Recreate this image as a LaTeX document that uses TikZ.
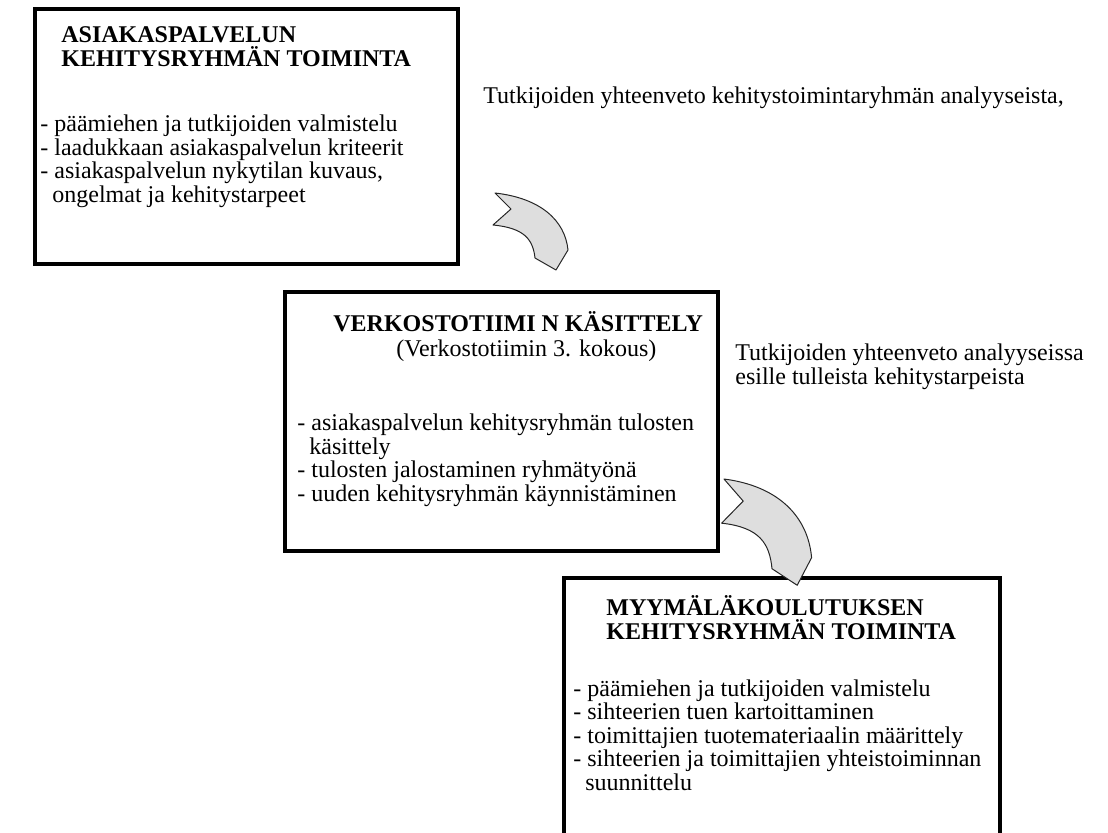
\documentclass[tikz,border=0pt]{standalone}
\usepackage{fontspec}
\setmainfont{Liberation Serif}
\usepackage{tikz}
\usetikzlibrary{positioning,calc}

\tikzset{
  frame/.style={draw=black, line width=1.75pt},
  headtext/.style={font=\fontsize{12pt}{11.6pt}\selectfont\bfseries, anchor=base west, inner sep=0pt, align=left},
  listtext/.style={font=\fontsize{12pt}{11.7pt}\selectfont, anchor=base west, inner sep=0pt, align=left},
  bendarrow/.style={draw=black!85, fill=black!13, line width=0.5pt, line join=round}
}

\begin{document}
\begin{tikzpicture}[x=0.5pt, y=-0.5pt]
    \clip (0,0) rectangle (1108,832);
    % boxes
    \draw[frame] (35,9) rectangle (458,264);
    \draw[frame] (285,292) rectangle (718,551);
    \draw[frame] (564,578) rectangle (1000,850);

    % first group (multi-line nodes sit on their last baseline)
    \node[headtext] (asiakashead) at (61,66) {ASIAKASPALVELUN\\KEHITYSRYHMÄN TOIMINTA};
    \node[listtext] (asiakaslist) at (40,202) {- päämiehen ja tutkijoiden valmistelu\\
      - laadukkaan asiakaspalvelun kriteerit\\
      - asiakaspalvelun nykytilan kuvaus,\\
      \hspace{0.5em}ongelmat ja kehitystarpeet};
    \node[listtext] (yhteenveto1) at (483,103) {Tutkijoiden yhteenveto kehitystoimintaryhmän analyyseista,};

    % network team
    \node[headtext] (verkostohead) at (333,331) {VERKOSTOTIIMI N KÄSITTELY};
    \node[listtext] (verkostosub) at (396,356) {(Verkostotiimin 3. kokous)};
    \node[listtext] (verkostolist) at (297,501) {- asiakaspalvelun kehitysryhmän tulosten\\
      \hspace{0.5em}käsittely\\
      - tulosten jalostaminen ryhmätyönä\\
      - uuden kehitysryhmän käynnistäminen};
    \node[listtext] (yhteenveto2) at (735,384) {Tutkijoiden yhteenveto analyyseissa\\esille tulleista kehitystarpeista};

    % shop training
    \node[headtext] (myymalahead) at (606,639) {MYYMÄLÄKOULUTUKSEN\\KEHITYSRYHMÄN TOIMINTA};
    \node[listtext] (myymalalist) at (573,790) {- päämiehen ja tutkijoiden valmistelu\\
      - sihteerien tuen kartoittaminen\\
      - toimittajien tuotemateriaalin määrittely\\
      - sihteerien ja toimittajien yhteistoiminnan\\
      \hspace{0.5em}suunnittelu};

    % curved block arrows
    \draw[bendarrow] (495,193) -- (511,209) -- (493,225)
      .. controls (525,228) and (533,240) .. (535,258)
      -- (556,270) -- (568,250)
      .. controls (565,220) and (540,198) .. (495,193) -- cycle;
    \begin{scope}[shift={(724,479)}, xscale=1.2, yscale=1.38]
      \draw[bendarrow] (0,0) -- (16,16) -- (-2,32)
        .. controls (30,35) and (38,47) .. (40,65)
        -- (61,77) -- (73,57)
        .. controls (70,27) and (45,5) .. (0,0) -- cycle;
    \end{scope}
\end{tikzpicture}
\end{document}
